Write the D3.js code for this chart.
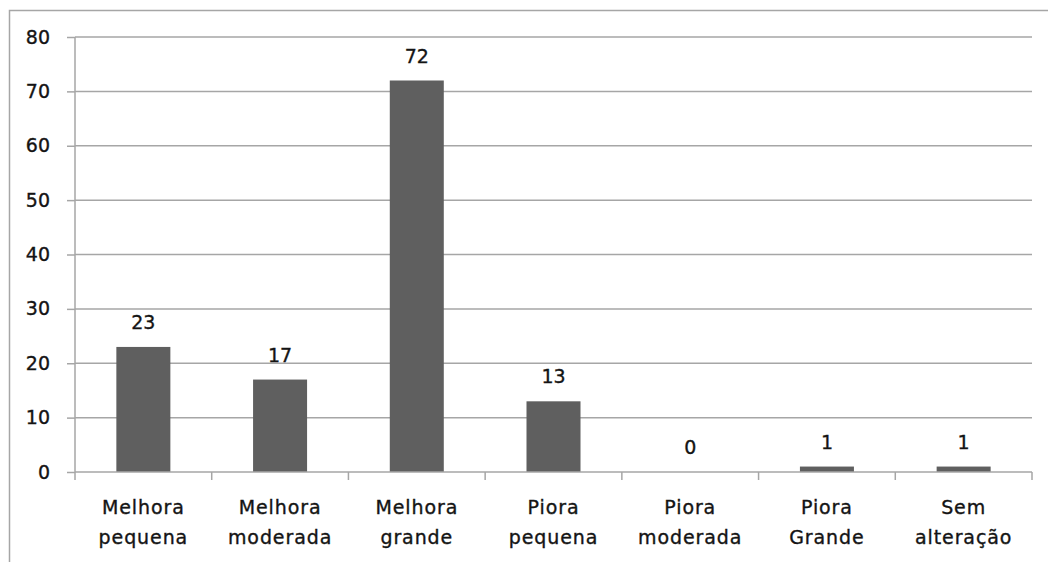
<!DOCTYPE html>
<html>
<head>
<meta charset="utf-8">
<script src="https://cdn.jsdelivr.net/npm/d3@7"></script>
<style>
  body { margin: 0; background: #fff; }
  text { font-family: "DejaVu Sans", Verdana, sans-serif; fill: #141414; stroke: #141414; stroke-width: 0.35px; }
</style>
</head>
<body>
<svg id="chart"></svg>
<script>
const categories = [
  ["Melhora", "pequena"],
  ["Melhora", "moderada"],
  ["Melhora", "grande"],
  ["Piora", "pequena"],
  ["Piora", "moderada"],
  ["Piora", "Grande"],
  ["Sem", "alteração"]
];
const values = [23, 17, 72, 13, 0, 1, 1];
const yTicks = [0, 10, 20, 30, 40, 50, 60, 70, 80];

const width = 1048;
const height = 562;
const margin = ({ top: 37, right: 16, bottom: 90, left: 75 });

const keys = categories.map(d => d.join(" "));

const svg = d3.select("#chart")
    .attr("width", width)
    .attr("height", height);

// chart border (runs off the right and bottom of the picture)
svg.append("rect")
    .attr("x", 9.5).attr("y", 10.5)
    .attr("width", 1100).attr("height", 600)
    .attr("fill", "none")
    .attr("stroke", "#a6a6a6")
    .attr("stroke-width", 1.5);

const xScale = d3.scaleBand()
    .domain(keys)
    .range([margin.left, width - margin.right])
    .paddingInner(0.605)
    .paddingOuter(0.3025);

const yScale = d3.scaleLinear()
    .domain([0, 80])
    .range([height - margin.bottom, margin.top]);

const step = xScale.step();

// gridlines
svg.append("g")
    .selectAll("line")
    .data(yTicks.slice(1))
    .join("line")
    .attr("x1", margin.left)
    .attr("x2", width - margin.right)
    .attr("y1", d => yScale(d))
    .attr("y2", d => yScale(d))
    .attr("stroke", "#a6a6a6")
    .attr("stroke-width", 1.5);

// y axis
const yAxis = svg.append("g")
    .attr("transform", `translate(${margin.left},0)`)
    .call(d3.axisLeft(yScale).tickValues(yTicks).tickSize(8).tickPadding(17))
    .call(g => g.select(".domain").remove());
yAxis.selectAll("line").attr("stroke", "#a6a6a6").attr("stroke-width", 1.5);
yAxis.selectAll("text")
    .style("font-size", "19px")
    .style("font-family", "'DejaVu Sans', Verdana, sans-serif")
    .attr("fill", "#141414");
yAxis.append("line")
    .attr("y1", yScale(80)).attr("y2", yScale(0))
    .attr("stroke", "#a6a6a6").attr("stroke-width", 1.5);

// bars
svg.append("g")
    .selectAll("rect")
    .data(values)
    .join("rect")
    .attr("x", (d, i) => xScale(keys[i]))
    .attr("width", xScale.bandwidth())
    .attr("y", d => yScale(d))
    .attr("height", d => yScale(0) - yScale(d))
    .attr("fill", "#5f5f5f");

// x axis line and boundary ticks
const xg = svg.append("g");
xg.append("line")
    .attr("x1", margin.left).attr("x2", width - margin.right)
    .attr("y1", yScale(0)).attr("y2", yScale(0))
    .attr("stroke", "#a6a6a6").attr("stroke-width", 1.5);
const bounds = d3.range(keys.length + 1).map(i => margin.left + i * step);
xg.selectAll(".xtick")
    .data(bounds)
    .join("line")
    .attr("class", "xtick")
    .attr("x1", d => d).attr("x2", d => d)
    .attr("y1", yScale(0)).attr("y2", yScale(0) + 8)
    .attr("stroke", "#a6a6a6").attr("stroke-width", 1.5);

// category labels
const catText = svg.append("g")
    .selectAll("text")
    .data(categories)
    .join("text")
    .attr("text-anchor", "middle")
    .style("font-size", "19px")
    .style("letter-spacing", "0.9px")
    .attr("transform", (d, i) => `translate(${xScale(keys[i]) + xScale.bandwidth() / 2},${yScale(0) + 42})`);
catText.selectAll("tspan")
    .data(d => d)
    .join("tspan")
    .attr("x", 0)
    .attr("y", (d, j) => j * 30)
    .text(d => d);

// value labels
svg.append("g")
    .selectAll("text")
    .data(values)
    .join("text")
    .attr("text-anchor", "middle")
    .style("font-size", "19px")
    .attr("x", (d, i) => xScale(keys[i]) + xScale.bandwidth() / 2)
    .attr("y", d => yScale(d) - 18)
    .text(d => d);
</script>
</body>
</html>
